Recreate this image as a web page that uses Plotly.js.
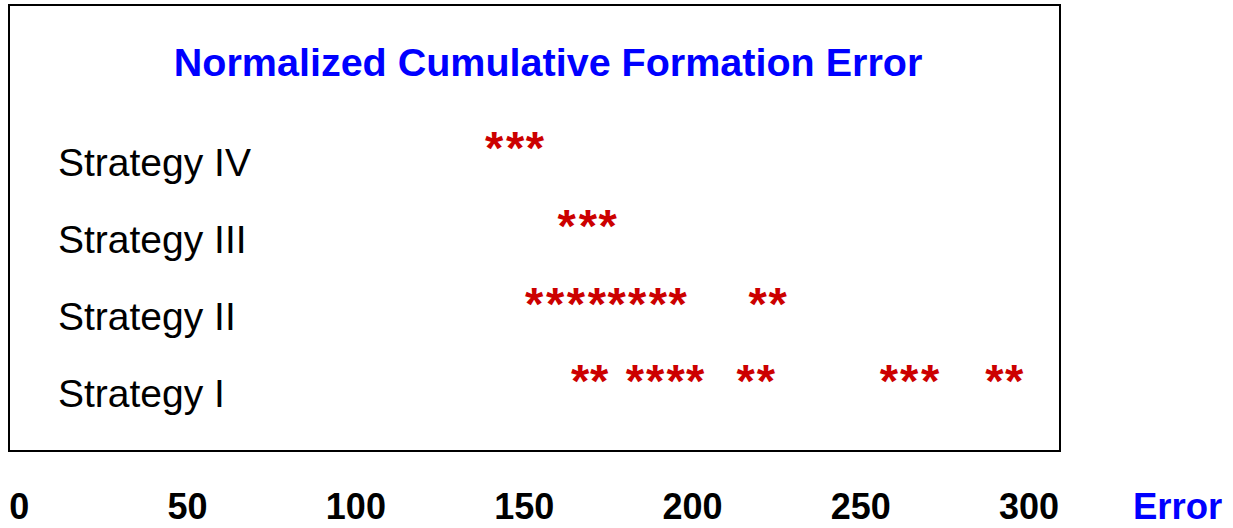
<!DOCTYPE html>
<html>
<head>
<meta charset="utf-8">
<script src="https://cdn.plot.ly/plotly-3.0.1.min.js"></script>
<style>
html,body{margin:0;padding:0;background:#fff;}
#chart{width:1233px;height:528px;}
</style>
</head>
<body>
<div id="chart"></div>
<script>
// Data
const strategies = ["Strategy I", "Strategy II", "Strategy III", "Strategy IV"];
const errorsStrategyI = [166.6, 172.3, 182.9, 188.9, 195.0, 200.8, 215.8, 221.8, 258.4, 264.4, 270.6, 289.7, 295.6];
const errorsStrategyII = [153.0, 159.2, 165.4, 171.6, 177.5, 183.6, 189.7, 195.6, 219.4, 225.3];
const errorsStrategyIII = [162.6, 168.9, 174.8];
const errorsStrategyIV = [141.1, 147.3, 153.2];
const xTickValues = [0, 50, 100, 150, 200, 250, 300];
const xTickLabels = ["0", "50", "100", "150", "200", "250", "300"];

const SANS = "'Liberation Sans', Arial, sans-serif";

const allErrors = [errorsStrategyI, errorsStrategyII, errorsStrategyIII, errorsStrategyIV];
const traces = allErrors.map((vals, i) => ({
  type: 'scatter',
  mode: 'text',
  x: vals,
  y: vals.map(() => strategies[i]),
  text: vals.map(() => '*'),
  textposition: 'middle center',
  textfont: {family: SANS, size: 47, color: '#CC0000', weight: 'bold'},
  hoverinfo: 'x+y',
  showlegend: false,
  cliponaxis: false
}));
// empty helper trace so that the label axis (y2) is drawn
traces.push({type: 'scatter', mode: 'none', x: [], y: [], yaxis: 'y2', hoverinfo: 'skip', showlegend: false});

const layout = {
  width: 1233,
  height: 528,
  margin: {l: 10, r: 174, t: 6, b: 78, pad: 0},
  paper_bgcolor: '#ffffff',
  plot_bgcolor: '#ffffff',
  showlegend: false,
  title: {
    text: 'Normalized Cumulative Formation Error',
    font: {family: SANS, size: 39.5, color: '#0000FF', weight: 'bold'},
    xref: 'paper', x: 0.5129, xanchor: 'center',
    yref: 'container', y: 0.8826, yanchor: 'middle'
  },
  xaxis: {
    range: [-2.76, 308.9],
    tickvals: xTickValues,
    ticktext: xTickLabels,
    ticks: '',
    showgrid: false,
    zeroline: false,
    showline: true,
    mirror: true,
    linecolor: '#000000',
    linewidth: 2,
    tickfont: {family: SANS, size: 36, color: '#000000', weight: 'bold'},
    ticklabelstandoff: 24,
    fixedrange: true
  },
  yaxis: {
    type: 'category',
    categoryorder: 'array',
    categoryarray: strategies,
    range: [-0.83, 4.884],
    ticks: '',
    showticklabels: false,
    showgrid: false,
    zeroline: false,
    showline: true,
    mirror: true,
    linecolor: '#000000',
    linewidth: 2,
    fixedrange: true
  },
  yaxis2: {
    overlaying: 'y',
    anchor: 'free',
    side: 'right',
    position: 0.0448,
    range: [-0.74, 5.026],
    tickvals: [0, 1, 2, 3],
    ticktext: strategies,
    ticks: '',
    showline: false,
    showgrid: false,
    zeroline: false,
    tickfont: {family: SANS, size: 39, color: '#000000'},
    fixedrange: true
  },
  annotations: [{
    text: 'Error',
    xref: 'paper', yref: 'paper',
    x: 1.1125, y: -0.128,
    xanchor: 'center', yanchor: 'middle',
    showarrow: false,
    font: {family: SANS, size: 36.5, color: '#0000FF', weight: 'bold'}
  }]
};

Plotly.newPlot('chart', traces, layout, {displayModeBar: false});
</script>
</body>
</html>
